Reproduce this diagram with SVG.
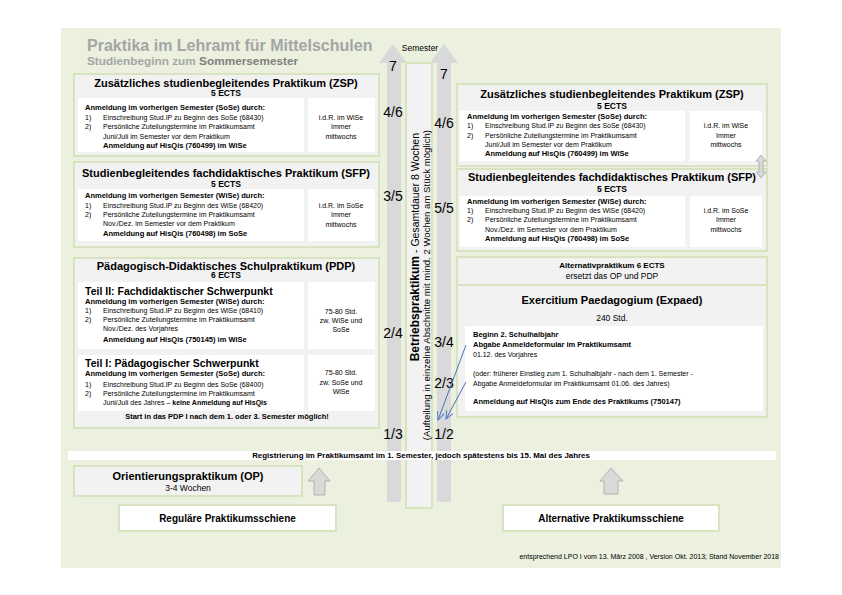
<svg xmlns="http://www.w3.org/2000/svg" width="842" height="595" viewBox="0 0 842 595">
<defs>
<style>
text{font-family:"Liberation Sans",Arial,sans-serif;fill:#000}
.b{font-weight:bold}
.box{fill:#f2f2f2;stroke:#d7e4bd;stroke-width:2}
.wb{fill:#fff}
.t11{font-size:11px;font-weight:bold}
.ects{font-size:8.5px;font-weight:bold}
.h{font-size:7.5px;font-weight:bold}
.r{font-size:7px}
.num{font-size:14px}
.mid{text-anchor:middle}
.arr{fill:#d9d9d9}
.sarr{fill:#d9d9d9;stroke:#a6a6a6;stroke-width:0.8}
.blue{stroke:#4472c4;stroke-width:1;fill:none}
</style>
<marker id="ah" viewBox="0 0 10 10" refX="9" refY="5" markerWidth="9" markerHeight="9" orient="auto" markerUnits="userSpaceOnUse">
<path d="M0,1 L9,5 L0,9" fill="none" stroke="#4472c4" stroke-width="1"/>
</marker>
</defs>

<rect x="61" y="28" width="720" height="540" fill="#ebf1de"/>

<g id="title">
<text x="87" y="51" class="b" style="font-size:16px;fill:#a5a5a5">Praktika im Lehramt für Mittelschulen</text>
<text x="87" y="65" class="b" style="font-size:11.8px;fill:#a5a5a5">Studienbeginn zum <tspan style="fill:#7f7f7f">Sommersemester</tspan></text>
</g>

<g id="semester-axis">
<polygon class="arr" points="387,502 387,63 379,63 393,44 407,63 401,63 401,502"/>
<polygon class="arr" points="437,502 437,63 430,63 444,44 458,63 451,63 451,502"/>
<text x="420" y="51" class="mid" style="font-size:8.5px">Semester</text>
<g class="num mid">
<text x="393" y="71" class="num mid">7</text>
<text x="393" y="117" class="num mid">4/6</text>
<text x="393" y="201" class="num mid">3/5</text>
<text x="393" y="338" class="num mid">2/4</text>
<text x="393" y="439" class="num mid">1/3</text>
<text x="444" y="79" class="num mid">7</text>
<text x="444" y="128" class="num mid">4/6</text>
<text x="444" y="213" class="num mid">5/5</text>
<text x="444" y="347" class="num mid">3/4</text>
<text x="444" y="388" class="num mid">2/3</text>
<text x="444" y="439" class="num mid">1/2</text>
</g>
</g>

<g id="betriebspraktikum">
<rect x="406" y="63" width="26" height="445" class="box"/>
<text transform="translate(418.5,133) rotate(-90)" style="text-anchor:end"><tspan class="b" style="font-size:12px">Betriebspraktikum</tspan><tspan style="font-size:10.5px"> - Gesamtdauer 8 Wochen</tspan></text>
<text transform="translate(429.5,130) rotate(-90)" style="text-anchor:end;font-size:9.6px">(Aufteilung in einzelne Abschnitte mit mind. 2 Wochen am Stück möglich)</text>
</g>

<g id="zsp-left">
<rect x="74" y="74" width="305" height="82" class="box"/>
<rect x="78" y="98" width="226" height="54" class="wb"/>
<rect x="308" y="98" width="67" height="54" class="wb"/>
<text x="226" y="87" class="t11 mid">Zusätzliches studienbegleitendes Praktikum (ZSP)</text>
<text x="226" y="96" class="ects mid">5 ECTS</text>
<text x="85" y="110" class="h">Anmeldung im vorherigen Semester (SoSe) durch:</text>
<text x="85" y="119.5" class="r">1)</text><text x="103" y="119.5" class="r">Einschreibung Stud.IP zu Beginn des SoSe (68430)</text>
<text x="85" y="129" class="r">2)</text><text x="103" y="129" class="r">Persönliche Zuteilungstermine im Praktikumsamt</text>
<text x="103" y="138.5" class="r">Juni/Juli im Semester vor dem Praktikum</text>
<text x="103" y="148" class="h">Anmeldung auf HisQis (760499) im WiSe</text>
<text x="341" y="119.5" class="r mid">i.d.R. im WiSe</text>
<text x="341" y="129" class="r mid">Immer</text>
<text x="341" y="138.5" class="r mid">mittwochs</text>
</g>

<g id="sfp-left">
<rect x="74" y="162" width="305" height="85" class="box"/>
<rect x="78" y="189" width="226" height="52" class="wb"/>
<rect x="308" y="189" width="67" height="52" class="wb"/>
<text x="226" y="177" class="t11 mid">Studienbegleitendes fachdidaktisches Praktikum (SFP)</text>
<text x="226" y="186.5" class="ects mid">5 ECTS</text>
<text x="85" y="198" class="h">Anmeldung im vorherigen Semester (WiSe) durch:</text>
<text x="85" y="208" class="r">1)</text><text x="103" y="208" class="r">Einschreibung Stud.IP zu Beginn des WiSe (68420)</text>
<text x="85" y="217" class="r">2)</text><text x="103" y="217" class="r">Persönliche Zuteilungstermine im Praktikumsamt</text>
<text x="103" y="226" class="r">Nov./Dez. im Semester vor dem Praktikum</text>
<text x="103" y="235.5" class="h">Anmeldung auf HisQis (760498) im SoSe</text>
<text x="341" y="208" class="r mid">i.d.R. im SoSe</text>
<text x="341" y="217" class="r mid">Immer</text>
<text x="341" y="226.5" class="r mid">mittwochs</text>
</g>

<g id="pdp-left">
<rect x="74" y="258" width="305" height="170" class="box"/>
<rect x="78" y="282" width="226" height="67" class="wb"/>
<rect x="308" y="282" width="67" height="67" class="wb"/>
<rect x="78" y="355" width="226" height="56" class="wb"/>
<rect x="308" y="355" width="67" height="56" class="wb"/>
<text x="226" y="269.5" class="t11 mid">Pädagogisch-Didaktisches Schulpraktikum  (PDP)</text>
<text x="226" y="278" class="ects mid">6 ECTS</text>
<text x="85" y="295" class="b" style="font-size:10.5px">Teil II: Fachdidaktischer Schwerpunkt</text>
<text x="85" y="303.5" class="h">Anmeldung im vorherigen Semester (WiSe) durch:</text>
<text x="85" y="313" class="r">1)</text><text x="103" y="313" class="r">Einschreibung Stud.IP zu Beginn des WiSe (68410)</text>
<text x="85" y="322" class="r">2)</text><text x="103" y="322" class="r">Persönliche Zuteilungstermine im Praktikumsamt</text>
<text x="103" y="331" class="r">Nov./Dez. des Vorjahres</text>
<text x="103" y="341.5" class="h">Anmeldung auf HisQis (750145) im WiSe</text>
<text x="341" y="314" class="r mid">75-80 Std.</text>
<text x="341" y="323" class="r mid">zw. WiSe und</text>
<text x="341" y="332" class="r mid">SoSe</text>
<text x="85" y="367" class="b" style="font-size:10.5px">Teil I: Pädagogischer Schwerpunkt</text>
<text x="85" y="376" class="h">Anmeldung im vorherigen Semester (SoSe) durch:</text>
<text x="85" y="386.5" class="r">1)</text><text x="103" y="386.5" class="r">Einschreibung Stud.IP zu Beginn des SoSe (68400)</text>
<text x="85" y="395.5" class="r">2)</text><text x="103" y="395.5" class="r">Persönliche Zuteilungstermine im Praktikumsamt</text>
<text x="103" y="404.5" class="r">Juni/Juli des Jahres – <tspan class="b">keine Anmeldung auf HisQis</tspan></text>
<text x="341" y="375" class="r mid">75-80 Std.</text>
<text x="341" y="385" class="r mid">zw. SoSe und</text>
<text x="341" y="394" class="r mid">WiSe</text>
<text x="227" y="419" class="h mid">Start in das PDP I nach dem 1. oder 3. Semester möglich!</text>
</g>

<g id="registrierung">
<rect x="68" y="451" width="708" height="9" fill="#fff"/>
<text x="421" y="458.3" class="b mid" style="font-size:7.9px">Registrierung im Praktikumsamt im 1. Semester, jedoch spätestens bis 15. Mai des Jahres</text>
</g>

<g id="op">
<rect x="74" y="466" width="228" height="30" class="box"/>
<text x="188" y="480" class="t11 mid">Orientierungspraktikum (OP)</text>
<text x="188" y="490.5" class="mid" style="font-size:8.5px">3-4 Wochen</text>
</g>

<g id="regulaer">
<rect x="119" y="505" width="217" height="26" fill="#fff" stroke="#d7e4bd" stroke-width="2"/>
<text x="227.5" y="522" class="b mid" style="font-size:10px">Reguläre Praktikumsschiene</text>
</g>

<g id="zsp-right">
<rect x="457" y="84" width="310" height="82" class="box"/>
<rect x="460" y="111" width="225" height="50" class="wb"/>
<rect x="690" y="111" width="72" height="50" class="wb"/>
<text x="612" y="98" class="t11 mid">Zusätzliches studienbegleitendes Praktikum (ZSP)</text>
<text x="612" y="108.5" class="ects mid">5 ECTS</text>
<text x="467" y="119" class="h">Anmeldung im vorherigen Semester (SoSe) durch:</text>
<text x="467" y="128" class="r">1)</text><text x="485" y="128" class="r">Einschreibung Stud.IP zu Beginn des SoSe (68430)</text>
<text x="467" y="137.5" class="r">2)</text><text x="485" y="137.5" class="r">Persönliche Zuteilungstermine im Praktikumsamt</text>
<text x="485" y="147" class="r">Juni/Juli im Semester vor dem Praktikum</text>
<text x="485" y="156" class="h">Anmeldung auf HisQis (760499) im WiSe</text>
<text x="726" y="128" class="r mid">i.d.R. im WiSe</text>
<text x="726" y="137.5" class="r mid">Immer</text>
<text x="726" y="147" class="r mid">mittwochs</text>
</g>

<g id="sfp-right">
<rect x="457" y="169" width="310" height="82" class="box"/>
<rect x="460" y="196" width="225" height="51" class="wb"/>
<rect x="690" y="196" width="72" height="51" class="wb"/>
<text x="612" y="181" class="t11 mid">Studienbegleitendes fachdidaktisches Praktikum (SFP)</text>
<text x="612" y="192" class="ects mid">5 ECTS</text>
<text x="467" y="204" class="h">Anmeldung im vorherigen Semester (WiSe) durch:</text>
<text x="467" y="213" class="r">1)</text><text x="485" y="213" class="r">Einschreibung Stud.IP zu Beginn des WiSe (68420)</text>
<text x="467" y="222" class="r">2)</text><text x="485" y="222" class="r">Persönliche Zuteilungstermine im Praktikumsamt</text>
<text x="485" y="231.5" class="r">Nov./Dez. im Semester vor dem Praktikum</text>
<text x="485" y="240.5" class="h">Anmeldung auf HisQis (760498) im SoSe</text>
<text x="726" y="213" class="r mid">i.d.R. im SoSe</text>
<text x="726" y="222" class="r mid">Immer</text>
<text x="726" y="231.5" class="r mid">mittwochs</text>
</g>

<g id="swap-arrow">
<polygon class="sarr" points="761,155 766,161 763,161 763,172 766,172 761,178 756,172 759,172 759,161 756,161"/>
</g>

<g id="alternativpraktikum">
<rect x="457" y="257" width="310" height="28" class="box"/>
<text x="612" y="268" class="b mid" style="font-size:8px">Alternativpraktikum 6 ECTS</text>
<text x="612" y="278.5" class="mid" style="font-size:8.5px">ersetzt das OP und PDP</text>
</g>

<g id="expaed">
<rect x="457" y="285" width="310" height="132" class="box"/>
<rect x="465" y="326" width="298" height="85" class="wb"/>
<text x="612" y="304" class="t11 mid">Exercitium Paedagogium (Expaed)</text>
<text x="612" y="321" class="mid" style="font-size:8.5px">240 Std.</text>
<text x="473" y="337" class="h">Beginn 2. Schulhalbjahr</text>
<text x="473" y="347" class="h">Abgabe Anmeldeformular im Praktikumsamt</text>
<text x="473" y="357" class="r">01.12. des Vorjahres</text>
<text x="473" y="376" class="r">(oder: früherer Einstieg zum 1. Schulhalbjahr - nach dem 1. Semester -</text>
<text x="473" y="386" class="r">Abgabe Anmeldeformular im Praktikumsamt 01.06. des Jahres)</text>
<text x="473" y="404" class="h">Anmeldung auf HisQis zum Ende des Praktikums (750147)</text>
</g>

<g id="alternativ">
<rect x="503" y="505" width="216" height="26" fill="#fff" stroke="#d7e4bd" stroke-width="2"/>
<text x="611" y="522" class="b mid" style="font-size:10px">Alternative Praktikumsschiene</text>
</g>

<g id="connectors">
<polygon class="sarr" points="319,468 330,481 325,481 325,495 314,495 314,481 308,481"/>
<polygon class="sarr" points="611,468 623,481 618,481 618,494 604,494 604,481 600,481"/>
<line x1="466" y1="345" x2="438" y2="420" class="blue" marker-end="url(#ah)"/>
<line x1="466" y1="382" x2="446" y2="419" class="blue" marker-end="url(#ah)"/>
</g>

<text x="779" y="559" style="font-size:7px;text-anchor:end">entsprechend LPO I vom 13. März 2008 , Version Okt. 2013; Stand November 2018</text>
</svg>
